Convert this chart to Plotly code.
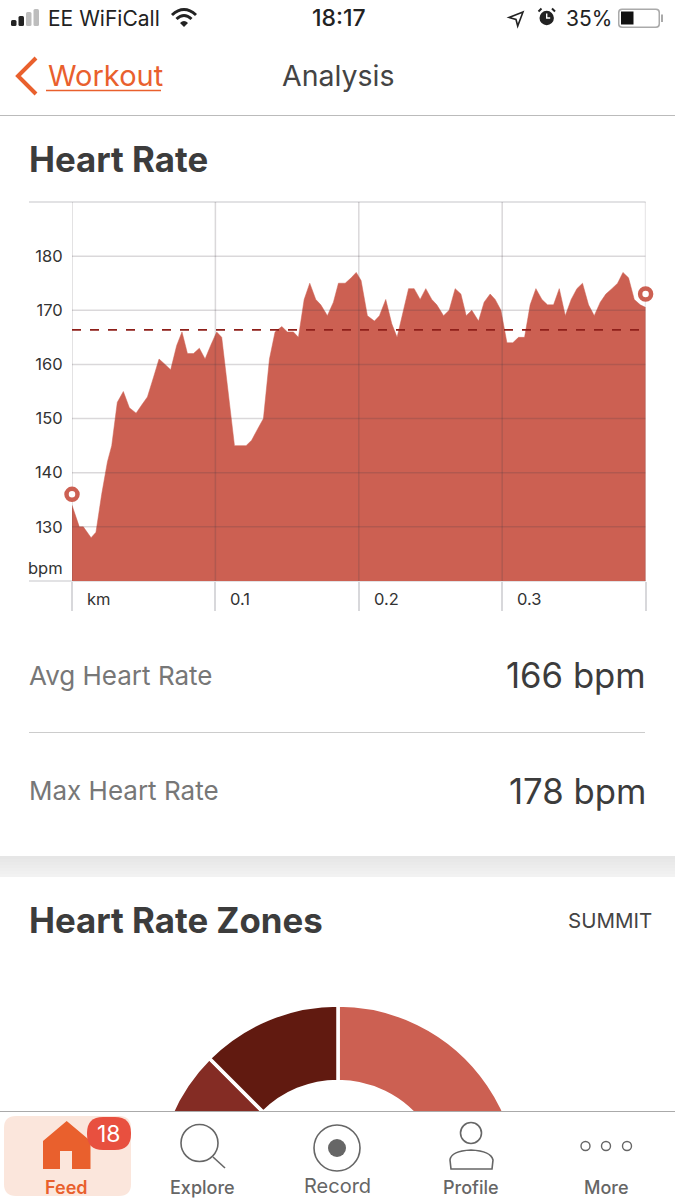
import plotly.graph_objects as go

# valores
km = [
    0.0, 0.0051, 0.0079, 0.0133, 0.0167, 0.0207, 0.0247, 0.0277, 0.0316, 0.0358,
    0.0400, 0.0447, 0.0486, 0.0526, 0.0567, 0.0607, 0.0649, 0.0688, 0.0730, 0.0767,
    0.0805, 0.0847, 0.0888, 0.0928, 0.0967, 0.1009, 0.1044, 0.1091, 0.1133, 0.1214,
    0.1253, 0.1293, 0.1335, 0.1377, 0.1416, 0.1463, 0.1502, 0.1544, 0.1579, 0.1619,
    0.1658, 0.1700, 0.1735, 0.1781, 0.1823, 0.1858, 0.1905, 0.1947, 0.1982, 0.2016,
    0.2060, 0.2109, 0.2144, 0.2188, 0.2230, 0.2267, 0.2312, 0.2347, 0.2386, 0.2428,
    0.2467, 0.2509, 0.2544, 0.2591, 0.2630, 0.2672, 0.2712, 0.2749, 0.2788, 0.2835,
    0.2874, 0.2916, 0.2951, 0.2991, 0.3033, 0.3074, 0.3114, 0.3156, 0.3195, 0.3235,
    0.3277, 0.3316, 0.3358, 0.3398, 0.3440, 0.3481, 0.3521, 0.3560, 0.3602, 0.3642,
    0.3684, 0.3723, 0.3765, 0.3805, 0.3842, 0.3881, 0.3921, 0.3963, 0.4002,
]
bpm = [
    134, 130, 130, 128, 129, 136, 142, 145, 153, 155,
    152, 151, 152.5, 154, 157.5, 161, 160, 159, 163.5, 166,
    162, 162, 163, 161, 163.5, 166, 165, 155, 145, 145,
    146, 148, 150, 161, 166, 167, 166, 166, 165, 172,
    175, 172, 171, 169, 171.5, 175, 175, 176, 177, 175.5,
    169, 168, 169, 172, 167.5, 165, 170, 174, 174, 172,
    174, 172, 171, 169, 170, 174, 173, 169, 170, 168,
    171.5, 173, 172, 170, 164, 164, 165, 165, 171, 174,
    172, 171, 171, 174, 169, 172, 174, 175, 171, 169,
    171.5, 173, 174, 175, 177, 176, 172, 171, 170.5,
]
avg_bpm = 166.4
ring_km = [0.0, 0.4]
ring_bpm = [136, 173]
y_ticks = [130, 140, 150, 160, 170, 180]
x_ticks = [0.0, 0.1, 0.2, 0.3]
x_edge = 0.4
x_labels = ['km', '0.1', '0.2', '0.3']
zone_names = ['Summit', 'Threshold', 'Max']
zone_shares = [62, 25.5, 12.5]

W = 675
H = 1400  # a rosca passa do fim da janela, o resto fica escondido
FONT = 'Inter'
RED = '#CC6052'
ORANGE = '#E9602D'
GREY = '#666666'
DARK = '#3C3C3C'
GRID = 'rgba(70,60,70,0.2)'
FRAME = '#D8D8DB'


def X(px):
    return px / W


def Y(py):
    return 1 - py / H


def path(d):
    # caminho SVG em pixels da tela -> coordenadas paper
    out = []
    is_x = True
    for tok in d.split():
        if tok.isalpha():
            out.append(tok)
        else:
            out.append(str(X(float(tok)) if is_x else Y(float(tok))))
            is_x = not is_x
    return ' '.join(out)


shapes = []
annotations = []


def add_path(d, fill='rgba(0,0,0,0)', line=None, width=0):
    shapes.append(dict(type='path', path=path(d), xref='paper', yref='paper', layer='above',
                       fillcolor=fill, line=dict(color=line or 'rgba(0,0,0,0)', width=width)))


def add_rect(x0, y0, x1, y1, fill):
    shapes.append(dict(type='rect', xref='paper', yref='paper', layer='above', x0=X(x0), x1=X(x1),
                       y0=Y(y0), y1=Y(y1), fillcolor=fill, line=dict(width=0)))


def add_round(x0, y0, x1, y1, r, fill):
    add_path(f'M {x0 + r} {y0} L {x1 - r} {y0} Q {x1} {y0} {x1} {y0 + r} L {x1} {y1 - r} '
             f'Q {x1} {y1} {x1 - r} {y1} L {x0 + r} {y1} Q {x0} {y1} {x0} {y1 - r} '
             f'L {x0} {y0 + r} Q {x0} {y0} {x0 + r} {y0} Z', fill=fill)


def add_circle(cx, cy, r, fill='rgba(0,0,0,0)', line=None, width=0):
    shapes.append(dict(type='circle', xref='paper', yref='paper', layer='above', x0=X(cx - r), x1=X(cx + r),
                       y0=Y(cy + r), y1=Y(cy - r), fillcolor=fill,
                       line=dict(color=line or 'rgba(0,0,0,0)', width=width)))


def add_hline(x0, x1, y, color, width=1, layer='above'):
    shapes.append(dict(type='line', xref='paper', yref='paper', layer=layer, x0=X(x0), x1=X(x1),
                       y0=Y(y), y1=Y(y), line=dict(color=color, width=width)))


def add_text(x, y, text, size, color, anchor='left', weight=400):
    annotations.append(dict(x=X(x), y=Y(y), xref='paper', yref='paper', text=text, showarrow=False,
                            xanchor=anchor, yanchor='middle', borderpad=0,
                            font=dict(family=FONT, size=size, color=color, weight=weight)))


# grade desenhada como traço para ficar por cima da área e por baixo dos anéis
grid_x = []
grid_y = []
for v in y_ticks:
    grid_x += [0, x_edge, None]
    grid_y += [v, v, None]
for v in x_ticks + [x_edge]:
    grid_x += [v, v, None]
    grid_y += [120, 190, None]

fig = go.Figure()
fig.add_trace(go.Scatter(x=km, y=bpm, mode='lines', fill='tozeroy', fillcolor=RED,
                         line=dict(color=RED, width=0.5), hoverinfo='skip'))
fig.add_trace(go.Scatter(x=grid_x, y=grid_y, mode='lines',
                         line=dict(color=GRID, width=1.5), hoverinfo='skip'))
fig.add_trace(go.Scatter(x=[0, 0.3956], y=[avg_bpm, avg_bpm], mode='lines',
                         line=dict(color='#8E1F1A', width=1.8, dash='9px,9px'), hoverinfo='skip'))
fig.add_trace(go.Scatter(x=ring_km, y=ring_bpm, mode='markers', cliponaxis=False,
                         marker=dict(size=11, color='white', line=dict(color=RED, width=4.5)), hoverinfo='skip'))
fig.add_trace(go.Pie(labels=zone_names, values=zone_shares, sort=False, direction='clockwise', rotation=0,
                     hole=105.6 / 182, textinfo='none', hoverinfo='skip', showlegend=False,
                     marker=dict(colors=[RED, '#842C24', '#611A10'], line=dict(color='white', width=3.5)),
                     domain=dict(x=[X(338 - 182), X(338 + 182)], y=[Y(1187 + 182), Y(1187 - 182)])))

# moldura do gráfico, com as pontas que saem da área
add_hline(29, 645.6, 202, FRAME, 1.5, layer='below')
add_hline(29, 645.6, 581, FRAME, 1.5, layer='below')

# rótulos do eixo x
for v, label in zip(x_ticks, x_labels):
    annotations.append(dict(x=v, y=Y(598.5), xref='x', yref='paper', text=label, showarrow=False, xshift=14,
                            xanchor='left', yanchor='middle', borderpad=0,
                            font=dict(family=FONT, size=16.5, color='#333333')))
add_text(64, 568, 'bpm', 16.5, '#333333', anchor='right')

# barra de status
for bx, by, fill in [(11, 20, '#222222'), (18.5, 16, '#222222'), (26, 12, '#BDBDBD'), (33.5, 9, '#BDBDBD')]:
    add_round(bx, by, bx + 5.5, 26, 1.5, fill)
add_text(47, 18, 'EE WiFiCall', 21, '#222222')
add_path('M 172 15 Q 184 4 196 15', line='#222222', width=3)
add_path('M 176.5 19 Q 184 12 191.5 19', line='#222222', width=3)
add_path('M 180 23 L 184 27 L 188 23 Q 184 19 180 23 Z', fill='#222222')
add_text(339, 18, '18:17', 23, '#222222', anchor='center', weight=500)
add_path('M 523 12 L 509 17.5 L 516 19.5 L 517.7 26 Z', line='#222222', width=1.6)
add_circle(546.7, 18, 7.2, fill='#222222')
add_path('M 538.5 11.5 L 541.5 8.5', line='#222222', width=2)
add_path('M 555 11.5 L 552 8.5', line='#222222', width=2)
add_path('M 546.7 13.5 L 546.7 18 L 550.2 18', line='white', width=1.4)
add_text(612.5, 18, '35%', 21, '#222222', anchor='right')
add_round(618, 8.5, 660, 28, 4, '#AAAAAA')
add_round(619.5, 10, 658.5, 26.5, 3, 'white')
add_rect(621, 11.5, 633.5, 24.5, '#111111')
add_rect(661, 14.5, 663, 22, '#AAAAAA')

# navegação
add_path('M 36 58 L 18 76 L 36 94', line=ORANGE, width=4)
add_text(46.5, 76, 'Workout', 29, ORANGE)
add_hline(46, 161, 90.5, ORANGE, 1.5)
add_text(338, 76, 'Analysis', 28.5, '#444444', anchor='center')
add_hline(0, 675, 115.5, '#BBBBBB', 1)

# cartão da frequência cardíaca
add_text(28, 159, 'Heart Rate', 34.8, DARK, weight=700)
add_text(28, 675, 'Avg Heart Rate', 26, '#777777')
add_text(646.5, 675, '166 bpm', 34.7, DARK, anchor='right')
add_hline(29, 645, 732.5, '#CCCCCC', 1)
add_text(28, 791, 'Max Heart Rate', 26, '#777777')
add_text(646.5, 791, '178 bpm', 34.7, DARK, anchor='right')
band = ['#E6E6E6', '#E8E8E8', '#EAEAEA', '#ECECEC', '#EEEEEE', '#F0F0F0', '#F2F2F2']
for i, c in enumerate(band):
    add_rect(0, 856 + i * 3, 675, 859 + i * 3, c)
add_text(28, 920, 'Heart Rate Zones', 34.8, DARK, weight=700)
add_text(653, 920, 'SUMMIT', 20.5, '#444444', anchor='right')

# barra de abas (cobre a rosca)
add_rect(0, 1111.5, 675, 1400, 'white')
add_hline(0, 675, 1111.5, '#AAAAAA', 1)
add_round(4, 1116, 131, 1196, 12, '#FBE6DC')
add_path('M 66.7 1121 L 43 1141 L 43 1169 L 60 1169 L 60 1151 L 72 1151 L 72 1169 L 90.5 1169 L 90.5 1141 Z',
         fill=ORANGE)
add_round(87, 1117, 131, 1150, 16, '#E8503F')
add_text(109, 1133.5, '18', 23, 'white', anchor='center')
add_text(66, 1187, 'Feed', 18, ORANGE, anchor='center', weight=600)
add_circle(199.5, 1143, 18.5, line=GREY, width=1.6)
add_path('M 213 1157 L 225 1168', line=GREY, width=1.6)
add_text(202, 1187, 'Explore', 18, GREY, anchor='center', weight=500)
add_circle(337, 1148, 23, line=GREY, width=1.6)
add_circle(337, 1148, 9, fill=GREY)
add_text(337, 1186, 'Record', 20, GREY, anchor='center')
add_circle(471, 1133, 10.5, line=GREY, width=1.6)
add_path('M 451 1169 L 450 1160 Q 451 1151 471 1150 Q 491 1151 493 1160 L 492 1169 Z', line=GREY, width=1.6)
add_text(471, 1187, 'Profile', 18, GREY, anchor='center', weight=500)
for cx in [585.5, 606, 627]:
    add_circle(cx, 1146, 4.5, line=GREY, width=1.4)
add_text(606, 1187, 'More', 18, GREY, anchor='center', weight=500)

fig.update_layout(
    width=W, height=H, margin=dict(l=0, r=0, t=0, b=0), showlegend=False,
    paper_bgcolor='white', plot_bgcolor='white', shapes=shapes, annotations=annotations,
    xaxis=dict(domain=[X(72), X(645.6)], range=[0, x_edge], showgrid=False, zeroline=False,
               showticklabels=False, ticks='outside', ticklen=29, tickwidth=1.5, tickcolor=FRAME,
               tickvals=x_ticks + [x_edge]),
    yaxis=dict(domain=[Y(581), Y(202)], range=[120, 190], tickvals=y_ticks, showgrid=False, zeroline=False,
               ticks='outside', ticklen=5, tickcolor='rgba(0,0,0,0)',
               tickfont=dict(family=FONT, size=16.5, color='#333333')),
)

# sem margem e sem rolagem: só os 1200 px da janela aparecem
page_css = ("document.documentElement.style.overflow='hidden';"
            "document.body.style.margin='0';document.body.style.overflow='hidden';")
fig.write_html('out.html', post_script=page_css, config=dict(displayModeBar=False))
